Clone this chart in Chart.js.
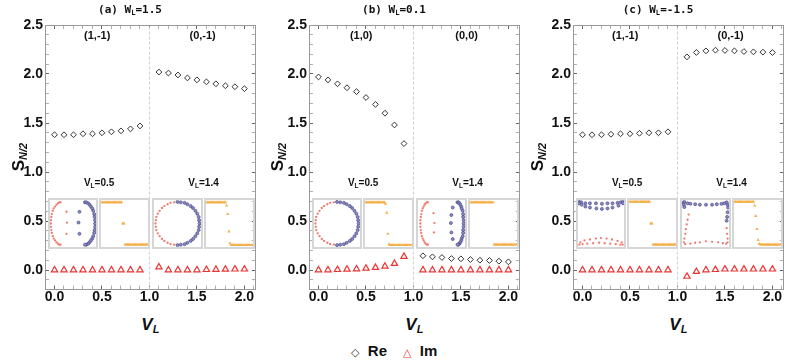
<!DOCTYPE html>
<html>
<head>
<meta charset="utf-8">
<script src="https://cdn.jsdelivr.net/npm/chart.js"></script>
<style>
body { margin: 0; background: #fff; }
#fig { position: relative; width: 789px; height: 363px; overflow: hidden; font-family: "Liberation Sans", Arial, sans-serif; color: #111; }
.panel { position: absolute; top: 0; width: 261px; height: 310px; }
.panel canvas.main { position: absolute; left: 0; top: 0; }
.ttl { position: absolute; left: 0; top: 3px; width: 260px; text-align: center; font: bold 11px "DejaVu Sans Mono", monospace; line-height: 14px; }
.ytl { position: absolute; width: 120px; height: 22px; line-height: 22px; text-align: center; transform: rotate(-90deg); font: bold 17px "Liberation Sans", Arial, sans-serif; }
.xtl { position: absolute; width: 100px; text-align: center; font: italic bold 17px "Liberation Sans", Arial, sans-serif; line-height: 20px; }
.lbl { position: absolute; transform: translate(-50%, -50%); white-space: nowrap; font: bold 10px "Liberation Sans", Arial, sans-serif; line-height: 1; }
.tag { font-size: 11px; }
sub { font-size: 65%; vertical-align: -0.25em; line-height: 0; }
.ytl sub { font-style: italic; font-size: 11px; }
.inset { position: absolute; box-sizing: border-box; border: 2px solid #d6d6d6; }
.inset canvas { display: block; }
.leg { position: absolute; top: 342px; font: bold 15px "Liberation Sans", Arial, sans-serif; line-height: 18px; white-space: nowrap; }
.sym { font: 11px "DejaVu Sans", sans-serif; }
</style>
</head>
<body>
<div id="fig">
  <div class="panel" id="p0" style="left:0px"><canvas class="main" width="261" height="310"></canvas></div>
  <div class="panel" id="p1" style="left:264px"><canvas class="main" width="261" height="310"></canvas></div>
  <div class="panel" id="p2" style="left:528px"><canvas class="main" width="261" height="310"></canvas></div>
  <div class="leg" style="left:351px"><span class="sym" style="color:#333">◇</span>&nbsp;&nbsp;Re</div>
  <div class="leg" style="left:403px"><span class="sym" style="color:#ee3333">△</span>&nbsp;&nbsp;Im</div>
</div>
<script>
// V_L values (1.0 is the transition, no point there)
const vL = [0.0, 0.1, 0.2, 0.3, 0.4, 0.5, 0.6, 0.7, 0.8, 0.9, 1.1, 1.2, 1.3, 1.4, 1.5, 1.6, 1.7, 1.8, 1.9, 2.0];

// panel (a) W_L = 1.5
const reA = [1.38, 1.38, 1.38, 1.39, 1.39, 1.40, 1.41, 1.42, 1.44, 1.47, 2.02, 2.01, 1.99, 1.96, 1.94, 1.92, 1.90, 1.88, 1.87, 1.85];
const imA = [0, 0, 0, 0, 0, 0, 0, 0, 0, 0, 0.03, 0, 0, 0, 0, 0.003, 0.005, 0.006, 0.008, 0.008];
// panel (b) W_L = 0.1
const reB = [1.97, 1.94, 1.90, 1.86, 1.82, 1.76, 1.69, 1.60, 1.48, 1.29, 0.145, 0.134, 0.128, 0.117, 0.114, 0.107, 0.100, 0.097, 0.090, 0.083];
const imB = [0, 0, 0.003, 0.007, 0.01, 0.017, 0.024, 0.038, 0.065, 0.138, 0, 0, 0, 0, 0, 0, 0, 0, 0, 0];
// panel (c) W_L = -1.5
const reC = [1.38, 1.38, 1.38, 1.385, 1.39, 1.39, 1.395, 1.40, 1.40, 1.41, 2.175, 2.22, 2.236, 2.243, 2.24, 2.236, 2.229, 2.226, 2.223, 2.219];
const imC = [0, 0, 0, 0, 0, 0, 0, 0, 0, 0, -0.066, -0.017, 0, 0.003, 0.008, 0.008, 0.008, 0.008, 0.008, 0.008];

const panelTags = ['(a)', '(b)', '(c)'];
const wL = ['1.5', '0.1', '-1.5'];
const regionLabels = [['(1,-1)', '(0,-1)'], ['(1,0)', '(0,0)'], ['(1,-1)', '(0,-1)']];
const insetVL = ['0.5', '1.4'];

// inset spectra (normalised inset coordinates)
const ellA05Red = [[.23,.95],[.20,.95],[.17,.93],[.14,.90],[.11,.86],[.08,.82],[.06,.77],[.04,.70],[.03,.64],[.02,.57],[.02,.50],[.02,.43],[.03,.36],[.04,.30],[.06,.23],[.08,.18],[.11,.14],[.14,.10],[.17,.07],[.20,.05],[.23,.05],[.36,.75],[.37,.52],[.36,.28]];
const ellA05Blue = [[.76,.95],[.79,.95],[.83,.93],[.86,.90],[.89,.86],[.92,.82],[.94,.77],[.96,.70],[.97,.64],[.98,.57],[.98,.50],[.98,.43],[.97,.36],[.96,.30],[.94,.23],[.92,.18],[.89,.14],[.86,.10],[.83,.07],[.79,.05],[.76,.05],[.64,.75],[.62,.52],[.64,.28]];
const circleRed = [[.43,.95],[.35,.94],[.29,.91],[.22,.87],[.17,.83],[.12,.77],[.08,.71],[.05,.64],[.04,.57],[.03,.50],[.04,.43],[.05,.36],[.08,.29],[.12,.23],[.17,.17],[.22,.13],[.29,.09],[.35,.06],[.43,.05]];
const circleBlue = [[.50,.96],[.57,.95],[.65,.94],[.71,.91],[.78,.87],[.83,.83],[.88,.77],[.92,.71],[.95,.64],[.96,.57],[.97,.50],[.96,.43],[.95,.36],[.92,.29],[.88,.23],[.83,.17],[.78,.13],[.71,.09],[.65,.06],[.57,.05],[.50,.04]];
const ellB14Red = [[.21,.95],[.19,.95],[.16,.93],[.14,.90],[.12,.86],[.10,.82],[.08,.77],[.07,.70],[.06,.64],[.05,.57],[.05,.50],[.05,.43],[.06,.36],[.07,.30],[.08,.23],[.10,.18],[.12,.14],[.14,.10],[.16,.07],[.19,.05],[.21,.05],[.33,.72],[.35,.51],[.34,.31]];
const ellB14Blue = [[.84,.95],[.86,.95],[.88,.93],[.90,.90],[.92,.86],[.93,.82],[.95,.77],[.96,.70],[.96,.64],[.97,.57],[.97,.50],[.97,.43],[.96,.36],[.96,.30],[.95,.23],[.93,.18],[.92,.14],[.90,.10],[.88,.07],[.86,.05],[.84,.05],[.74,.84],[.71,.68],[.70,.51],[.71,.31],[.74,.17]];
const bandC05Blue = [[.03,.96],[.07,.95],[.16,.93],[.26,.93],[.39,.93],[.52,.92],[.64,.93],[.75,.93],[.86,.94],[.93,.95],[.97,.96],[.02,.93],[.98,.93],[.08,.90],[.16,.86],[.26,.84],[.40,.82],[.52,.81],[.64,.82],[.75,.84],[.88,.88]];
const bandC05Red = [[.05,.10],[.14,.14],[.26,.16],[.39,.18],[.50,.19],[.62,.18],[.74,.16],[.86,.13],[.95,.10],[.03,.05],[.10,.06],[.20,.07],[.33,.08],[.46,.09],[.58,.08],[.70,.07],[.82,.06],[.92,.05],[.97,.05]];
const squareC14Blue = [[.03,.94],[.05,.96],[.12,.93],[.18,.92],[.28,.91],[.38,.90],[.51,.90],[.64,.90],[.74,.91],[.84,.92],[.90,.93],[.95,.95],[.04,.90],[.05,.85],[.97,.90],[.98,.84],[.97,.74],[.96,.64],[.95,.56]];
const squareC14Red = [[.14,.69],[.12,.58],[.10,.48],[.08,.38],[.07,.28],[.05,.18],[.04,.10],[.07,.06],[.18,.07],[.28,.09],[.38,.10],[.51,.12],[.64,.11],[.77,.10],[.87,.08],[.94,.07],[.95,.40],[.96,.28],[.97,.18],[.97,.10]];
const orangeA05 = [0.95,0.95,0.95,0.95,0.95,0.95,0.95,0.95,0.95,0.95,0.95,0.95,0.95,0.95,0.95,0.95,0.95,0.95,0.5,0.5,0.05,0.05,0.05,0.05,0.05,0.05,0.05,0.05,0.05,0.05,0.05,0.05,0.05,0.05,0.05,0.05,0.05,0.05,0.05,0.05];
const orangeA14 = [0.95,0.95,0.95,0.95,0.95,0.95,0.95,0.95,0.95,0.95,0.95,0.95,0.95,0.95,0.95,0.95,0.95,0.88,0.70,0.33,0.08,0.04,0.04,0.04,0.04,0.04,0.04,0.04,0.04,0.04,0.04,0.04,0.04,0.04,0.04,0.04,0.04,0.04,0.04,0.04];
const orangeB05 = [0.95,0.95,0.95,0.95,0.95,0.95,0.95,0.95,0.95,0.95,0.95,0.95,0.95,0.95,0.95,0.95,0.95,0.92,0.73,0.28,0.06,0.04,0.04,0.04,0.04,0.04,0.04,0.04,0.04,0.04,0.04,0.04,0.04,0.04,0.04,0.04,0.04,0.04,0.04,0.04];
const orangeB14 = [0.95,0.95,0.95,0.95,0.95,0.95,0.95,0.95,0.95,0.95,0.95,0.95,0.95,0.95,0.95,0.95,0.95,0.95,0.95,0.95,0.05,0.05,0.05,0.05,0.05,0.05,0.05,0.05,0.05,0.05,0.05,0.05,0.05,0.05,0.05,0.05,0.05,0.05,0.05,0.05];
const orangeC05 = [0.96,0.96,0.96,0.96,0.96,0.96,0.96,0.96,0.96,0.96,0.96,0.96,0.96,0.96,0.96,0.96,0.96,0.96,0.5,0.5,0.05,0.05,0.05,0.05,0.05,0.05,0.05,0.05,0.05,0.05,0.05,0.05,0.05,0.05,0.05,0.05,0.05,0.05,0.05,0.05];
const orangeC14 = [0.96,0.96,0.96,0.96,0.96,0.96,0.96,0.96,0.96,0.96,0.96,0.96,0.96,0.96,0.96,0.96,0.96,0.88,0.66,0.38,0.15,0.07,0.05,0.05,0.05,0.05,0.05,0.05,0.05,0.05,0.05,0.05,0.05,0.05,0.05,0.05,0.05,0.05,0.05,0.05];

const X_MIN = -0.1, X_MAX = 2.12, Y_MIN = -0.2, Y_MAX = 2.5;
const INSET_X = [[-0.07, 0.455], [0.47, 1.005], [1.025, 1.565], [1.575, 2.115]];
const INSET_Y = [0.214, 0.735];
const yTitleX = [20, 15, 11];

const isMajor = v => Math.abs(v * 2 - Math.round(v * 2)) < 1e-6;
const tickFont = { family: '"Liberation Sans", Arial, sans-serif', size: 14, weight: 'bold' };

function axis(pos, min, max, showLabels) {
  return {
    type: 'linear', position: pos, min: min, max: max,
    grid: {
      drawOnChartArea: false, drawTicks: true, tickLength: -4, tickWidth: 1,
      tickColor: c => (c.tick && isMajor(c.tick.value)) ? '#666' : '#b0b0b0'
    },
    border: { display: true, color: '#999', width: 1 },
    ticks: {
      display: showLabels, stepSize: 0.1, autoSkip: false, includeBounds: false, maxRotation: 0,
      font: tickFont, color: '#111', padding: pos === 'left' ? 6 : 3.5,
      callback: v => isMajor(v) ? v.toFixed(1) : ''
    },
    afterFit: s => {
      if (pos === 'left') s.width = 45;
      else if (pos === 'bottom') s.height = 20.4;
      else if (pos === 'top') s.height = 0;
      else s.width = 0;
    }
  };
}

function addLabel(panel, html, left, top, cls) {
  const d = document.createElement('div');
  d.className = cls;
  d.innerHTML = html;
  d.style.left = left + 'px';
  d.style.top = top + 'px';
  panel.appendChild(d);
  return d;
}

const pts = arr => arr.map(p => ({ x: p[0], y: p[1] }));
const redSet = arr => ({ data: pts(arr), pointRadius: 1.15, backgroundColor: '#f07a6c', borderWidth: 0, clip: false });
const blueSet = arr => ({ data: pts(arr), pointRadius: 1.5, backgroundColor: '#8c8cc4', borderColor: '#4b4b8c', borderWidth: 0.7, clip: false });
const orangeSet = ys => ({ data: ys.map((y, i) => ({ x: i, y: y })), pointStyle: 'triangle', pointRadius: 1.9, backgroundColor: '#f4b04a', borderWidth: 0, clip: false });

function addInset(panel, chart, xr, sets, range) {
  const sx = chart.scales.x, sy = chart.scales.y;
  const l = Math.round(sx.getPixelForValue(xr[0])), r = Math.round(sx.getPixelForValue(xr[1]));
  const t = Math.round(sy.getPixelForValue(INSET_Y[1])), b = Math.round(sy.getPixelForValue(INSET_Y[0]));
  const div = document.createElement('div');
  div.className = 'inset';
  div.style.left = l + 'px'; div.style.top = t + 'px';
  div.style.width = (r - l) + 'px'; div.style.height = (b - t) + 'px';
  const c = document.createElement('canvas');
  c.width = r - l - 4; c.height = b - t - 4;
  div.appendChild(c);
  panel.appendChild(div);
  new Chart(c, {
    type: 'scatter',
    data: { datasets: sets },
    options: {
      responsive: false, animation: false, events: [],
      layout: { padding: 0, autoPadding: false },
      plugins: { legend: { display: false }, tooltip: { enabled: false } },
      scales: {
        x: { display: false, min: range[0], max: range[1] },
        y: { display: false, min: 0, max: 1 }
      }
    }
  });
}

const reData = [reA, reB, reC];
const imData = [imA, imB, imC];
const insetSets = [
  [[redSet(ellA05Red), blueSet(ellA05Blue)], [orangeSet(orangeA05)], [redSet(circleRed), blueSet(circleBlue)], [orangeSet(orangeA14)]],
  [[redSet(circleRed), blueSet(circleBlue)], [orangeSet(orangeB05)], [redSet(ellB14Red), blueSet(ellB14Blue)], [orangeSet(orangeB14)]],
  [[redSet(bandC05Red), blueSet(bandC05Blue)], [orangeSet(orangeC05)], [redSet(squareC14Red), blueSet(squareC14Blue)], [orangeSet(orangeC14)]]
];

for (let k = 0; k < 3; k++) {
  const panel = document.getElementById('p' + k);
  const cv = panel.querySelector('canvas');
  const chart = new Chart(cv, {
    type: 'scatter',
    data: {
      datasets: [
        { label: 'Re', data: vL.map((v, i) => ({ x: v, y: reData[k][i] })), pointStyle: 'rectRot', pointRadius: 2.9,
          borderColor: '#333', backgroundColor: '#fff', borderWidth: 1 },
        { label: 'Im', data: vL.map((v, i) => ({ x: v, y: imData[k][i] })), pointStyle: 'triangle', pointRadius: 3.6,
          borderColor: '#ee3333', backgroundColor: '#fff', borderWidth: 1.2 },
        { label: 'sep', data: [{ x: 1, y: Y_MIN }, { x: 1, y: Y_MAX }], showLine: true, pointRadius: 0,
          borderColor: '#cfcfcf', borderWidth: 1, borderDash: [3, 2] }
      ]
    },
    options: {
      responsive: false, animation: false, events: [],
      layout: { padding: { left: 0, right: 1, top: 25, bottom: 0 } },
      plugins: { legend: { display: false }, tooltip: { enabled: false } },
      scales: {
        x: axis('bottom', X_MIN, X_MAX, true),
        x2: axis('top', X_MIN, X_MAX, false),
        y: axis('left', Y_MIN, Y_MAX, true),
        y2: axis('right', Y_MIN, Y_MAX, false)
      }
    }
  });

  const sx = chart.scales.x, sy = chart.scales.y;
  const ca = chart.chartArea;
  addLabel(panel, panelTags[k] + ' W<sub>L</sub>=' + wL[k], 0, 3, 'ttl');
  addLabel(panel, 'S<sub>N/2</sub>', yTitleX[k] - 60, (ca.top + ca.bottom) / 2 - 11, 'ytl');
  addLabel(panel, 'V<sub>L</sub>', (ca.left + ca.right) / 2 - 50, 315, 'xtl');
  addLabel(panel, regionLabels[k][0], sx.getPixelForValue(0.45), sy.getPixelForValue(2.4), 'lbl tag');
  addLabel(panel, regionLabels[k][1], sx.getPixelForValue(1.56), sy.getPixelForValue(2.4), 'lbl tag');
  addLabel(panel, 'V<sub>L</sub>=' + insetVL[0], sx.getPixelForValue(0.47), sy.getPixelForValue(0.89), 'lbl');
  addLabel(panel, 'V<sub>L</sub>=' + insetVL[1], sx.getPixelForValue(1.57), sy.getPixelForValue(0.89), 'lbl');

  for (let j = 0; j < 4; j++) {
    const range = (j % 2 === 1) ? [-0.6, 39.6] : [0, 1];
    addInset(panel, chart, INSET_X[j], insetSets[k][j], range);
  }
}
</script>
</body>
</html>
